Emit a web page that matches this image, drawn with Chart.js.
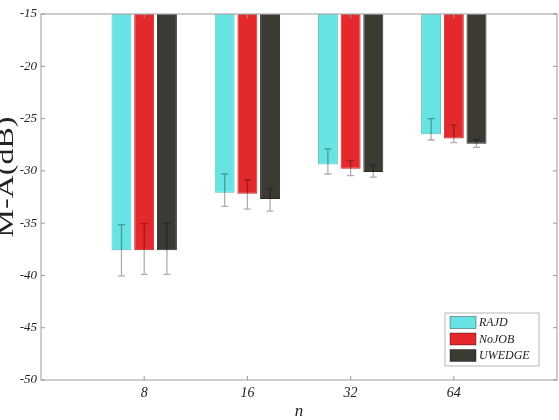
<!DOCTYPE html>
<html><head><meta charset="utf-8">
<script src="https://cdn.jsdelivr.net/npm/chart.js@4.4.1/dist/chart.umd.min.js"></script>
<style>html,body{margin:0;padding:0;background:#fff;}canvas{display:block;}</style>
</head><body>
<canvas id="c" width="559" height="420"></canvas>
<script>
// ---- data ----
const categories = ['8', '16', '32', '64'];
const categoryPositions = [1, 2, 3, 4];
const seriesNames = ['RAJD', 'NoJOB', 'UWEDGE'];
const rajd   = [-37.6, -32.1, -29.4, -26.5];
const nojob  = [-37.6, -32.2, -29.8, -26.9];
const uwedge = [-37.6, -32.7, -30.1, -27.4];
const rajdErrUp   = [2.45, 1.8, 1.5, 1.5];
const rajdErrDown = [2.45, 1.3, 0.9, 0.55];
const nojobErrUp   = [2.55, 1.35, 0.75, 1.3];
const nojobErrDown = [2.3, 1.45, 0.65, 0.4];
const uwedgeErrUp   = [2.6, 1.0, 0.65, 0.4];
const uwedgeErrDown = [2.3, 1.15, 0.5, 0.35];
const yTickValues = [-50, -45, -40, -35, -30, -25, -20, -15];
const yMin = -50, yMax = -15, barTop = -15;
const xTitle = 'n';
const yTitle = 'M-A(dB)';

// ---- styles ----
const fills = ['#67e3e3', '#e3292c', '#3b3a33'];
const edges = ['#55c2c2', '#c42024', '#2a2a24'];
const serif = "'Liberation Serif', 'DejaVu Serif', serif";

const values = [rajd, nojob, uwedge];
const errUp = [rajdErrUp, nojobErrUp, uwedgeErrUp];
const errDown = [rajdErrDown, nojobErrDown, uwedgeErrDown];

const datasets = seriesNames.map((name, d) => ({
  label: name,
  data: categoryPositions.map((x, i) => ({ x: x, y: [barTop, values[d][i]] })),
  backgroundColor: fills[d],
  borderColor: edges[d],
  borderWidth: 1,
  borderSkipped: false,
  categoryPercentage: 0.66,
  barPercentage: 0.88
}));

const framePlugin = {
  id: 'frame',
  afterDatasetsDraw(chart) {
    const ctx = chart.ctx;
    const ys = chart.scales.y;
    ctx.save();
    ctx.strokeStyle = 'rgba(0,0,0,0.32)';
    ctx.lineWidth = 1.3;
    seriesNames.forEach((n, d) => {
      const meta = chart.getDatasetMeta(d);
      meta.data.forEach((el, i) => {
        const x = el.x;
        const yT = ys.getPixelForValue(values[d][i] + errUp[d][i]);
        const yB = ys.getPixelForValue(values[d][i] - errDown[d][i]);
        ctx.beginPath();
        ctx.moveTo(x, yT); ctx.lineTo(x, yB);
        ctx.moveTo(x - 3.5, yT); ctx.lineTo(x + 3.5, yT);
        ctx.moveTo(x - 3.5, yB); ctx.lineTo(x + 3.5, yB);
        ctx.stroke();
      });
    });
    ctx.restore();
  },
  afterDraw(chart) {
    const ctx = chart.ctx;
    const a = chart.chartArea;
    const ys = chart.scales.y, xs = chart.scales.x;
    ctx.save();
    ctx.strokeStyle = '#b3b3b3';
    ctx.lineWidth = 1.3;
    ctx.strokeRect(a.left, a.top, a.right - a.left, a.bottom - a.top);
    ctx.strokeStyle = '#9a9a9a';
    ctx.lineWidth = 1;
    ctx.beginPath();
    yTickValues.forEach(v => {
      const y = ys.getPixelForValue(v);
      ctx.moveTo(a.left, y); ctx.lineTo(a.left + 4, y);
      ctx.moveTo(a.right, y); ctx.lineTo(a.right - 4, y);
    });
    categoryPositions.forEach(p => {
      const x = xs.getPixelForValue(p);
      ctx.moveTo(x, a.bottom); ctx.lineTo(x, a.bottom - 4);
      ctx.moveTo(x, a.top); ctx.lineTo(x, a.top + 4);
    });
    ctx.stroke();
    // legend
    const lx = 445, ly = 313, lw = 94, lh = 53;
    ctx.fillStyle = '#fff';
    ctx.fillRect(lx, ly, lw, lh);
    ctx.strokeStyle = '#c4c4c4';
    ctx.lineWidth = 1.2;
    ctx.strokeRect(lx, ly, lw, lh);
    ctx.font = 'italic 12px ' + serif;
    ctx.textBaseline = 'middle';
    ctx.textAlign = 'left';
    seriesNames.forEach((n, d) => {
      const cy = ly + 9.5 + d * 16.5;
      ctx.fillStyle = fills[d];
      ctx.fillRect(lx + 5, cy - 6, 26, 12);
      ctx.strokeStyle = 'rgba(0,0,0,0.45)';
      ctx.lineWidth = 0.8;
      ctx.strokeRect(lx + 5, cy - 6, 26, 12);
      ctx.fillStyle = '#222';
      ctx.fillText(n, lx + 34, cy + 0.5);
    });
    // y title (partly cut at the left edge, as in the reference)
    ctx.translate(13, 177);
    ctx.scale(0.75, 1);
    ctx.rotate(-Math.PI / 2);
    ctx.font = '32px ' + serif;
    ctx.textAlign = 'center';
    ctx.textBaseline = 'alphabetic';
    ctx.fillStyle = '#222';
    ctx.fillText(yTitle, 0, 0);
    ctx.restore();
  }
};

new Chart(document.getElementById('c'), {
  type: 'bar',
  data: { datasets },
  options: {
    responsive: false,
    animation: false,
    devicePixelRatio: 1,
    layout: { padding: { top: 14, right: 2, left: 0, bottom: 0 } },
    plugins: { legend: { display: false }, tooltip: { enabled: false } },
    scales: {
      x: {
        type: 'linear',
        min: 0, max: 5,
        offset: false,
        afterFit: s => { s.height = 40; },
        grid: { display: false, drawTicks: false },
        border: { display: false },
        afterBuildTicks: s => { s.ticks = categoryPositions.map(v => ({ value: v })); },
        ticks: {
          autoSkip: false,
          maxRotation: 0,
          padding: 5,
          color: '#222',
          font: { family: serif, size: 14, style: 'italic' },
          callback: v => { const k = categoryPositions.indexOf(v); return k >= 0 ? categories[k] : ''; }
        },
        title: { display: true, text: xTitle, color: '#222', padding: 0,
                 font: { family: serif, size: 17, style: 'italic', lineHeight: 1.0 } }
      },
      y: {
        min: yMin, max: yMax,
        afterFit: s => { s.width = 41; },
        grid: { display: false, drawTicks: false },
        border: { display: false },
        afterBuildTicks: s => { s.ticks = yTickValues.map(v => ({ value: v })); },
        ticks: {
          padding: 4,
          color: '#222',
          font: { family: serif, size: 13, style: 'italic' }
        }
      }
    }
  },
  plugins: [framePlugin]
});
</script>
</body></html>
